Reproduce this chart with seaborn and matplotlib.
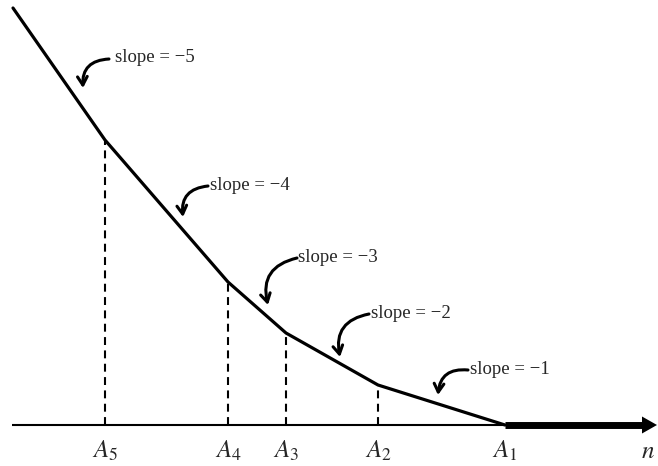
import matplotlib
matplotlib.use("Agg")
import matplotlib.pyplot as plt
import seaborn as sns
import pandas as pd

# Break points of the piecewise-linear curve (left end, then A5 ... A1)
point_names = ["$A_5$", "$A_4$", "$A_3$", "$A_2$", "$A_1$"]
point_x = [105, 228, 286, 378, 505]
point_h = [285, 143, 92, 40, 0]
start_x = 13
start_h = 417
slopes = [-5, -4, -3, -2, -1]
axis_end = 657

sns.set_style("white")
plt.rcParams["font.family"] = ["Liberation Serif", "DejaVu Serif"]
plt.rcParams["mathtext.fontset"] = "stix"

W, H = 658, 466
fig = plt.figure(figsize=(W / 100, H / 100), dpi=100)
ax = fig.add_axes([0, 0, 1, 1])
ax.set_xlim(0, W)
ax.set_ylim(-41, 425)
ax.set_axis_off()


def py(y):
    # screen-style vertical position -> data height above the axis
    return 425 - y


# horizontal axis: thin part up to A1, thick arrow beyond it
ax.plot([12, point_x[-1]], [0, 0], color="black", lw=1.5, solid_capstyle="butt")
head_len, head_half = 15, 8.5
ax.plot([point_x[-1], axis_end - head_len + 1], [0, 0], color="black", lw=5,
        solid_capstyle="butt")
ax.fill([axis_end - head_len, axis_end, axis_end - head_len],
        [head_half, 0, -head_half], color="black", lw=0)

# the curve itself
curve = pd.DataFrame({"x": [start_x] + point_x, "h": [start_h] + point_h})
sns.lineplot(data=curve, x="x", y="h", ax=ax, color="black", lw=2.3,
             sort=False, estimator=None)

# dashed drop lines from each break point
ax.vlines(point_x[:-1], 0, point_h[:-1], colors="black", lw=1.5,
          linestyles=(0, (3.8, 2.6)))

# labels under the axis
for name, x in zip(point_names, point_x):
    ax.text(x, py(451), name, ha="center", va="center", fontsize=18)
ax.text(648, py(452), "$n$", ha="center", va="center", fontsize=18)

# slope annotations with curved arrows: (text x, text y, tail x, tail y, tip x, tip y)
notes = [
    (115, 57, 109, 59, 83, 88),
    (210, 185, 208, 186, 183, 217),
    (298, 257, 297, 258, 268, 305),
    (371, 313, 369, 314, 340, 357),
    (470, 369, 468, 370, 438, 395),
]
for s, (tx, ty, ax0, ay0, bx, by) in zip(slopes, notes):
    ax.text(tx, py(ty), f"slope = \u2212{abs(s)}", ha="left", va="center",
            fontsize=13.5)
    ax.annotate("", xy=(bx, py(by)), xytext=(ax0, py(ay0)),
                arrowprops=dict(arrowstyle="->,head_length=0.6,head_width=0.35",
                                lw=2.2, color="black", shrinkA=0, shrinkB=0,
                                connectionstyle="arc3,rad=0.5"))

fig.savefig("out.png", dpi=100)
